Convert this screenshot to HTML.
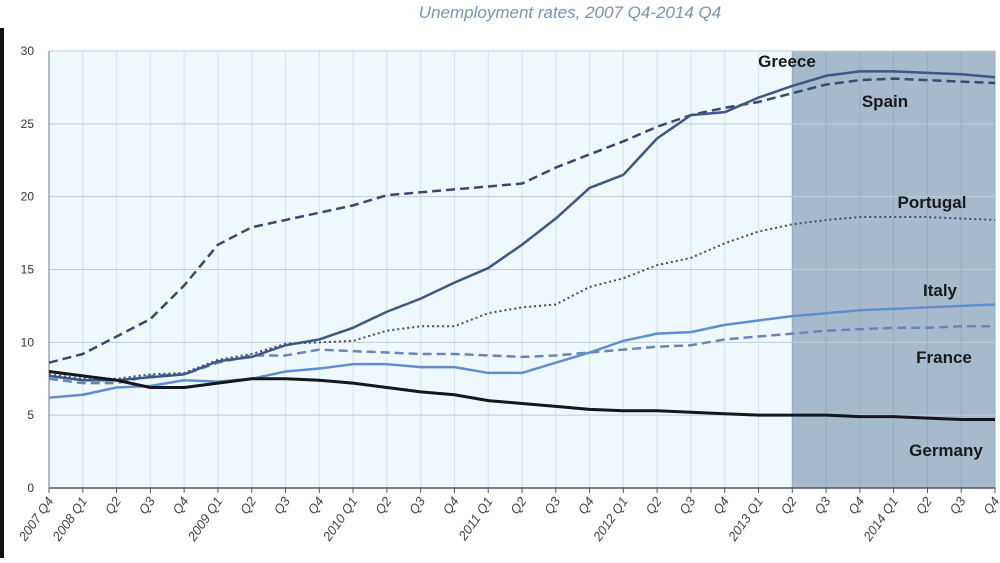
<!DOCTYPE html>
<html><head><meta charset="utf-8"><style>
body{margin:0;background:#fff;width:1000px;height:558px;overflow:hidden;font-family:"Liberation Sans",sans-serif}
</style></head><body>
<svg id="c" width="1000" height="558" xmlns="http://www.w3.org/2000/svg"></svg>
<script>
const categories=["2007 Q4","2008 Q1","Q2","Q3","Q4","2009 Q1","Q2","Q3","Q4","2010 Q1","Q2","Q3","Q4","2011 Q1","Q2","Q3","Q4","2012 Q1","Q2","Q3","Q4","2013 Q1","Q2","Q3","Q4","2014 Q1","Q2","Q3","Q4"];
const greece=[7.7,7.4,7.4,7.6,7.8,8.7,9.0,9.8,10.2,11.0,12.1,13.0,14.1,15.1,16.7,18.5,20.6,21.5,24.0,25.6,25.8,26.8,27.6,28.3,28.6,28.6,28.5,28.4,28.2];
const spain=[8.6,9.2,10.4,11.6,13.9,16.7,17.9,18.4,18.9,19.4,20.1,20.3,20.5,20.7,20.9,22.0,22.9,23.8,24.8,25.6,26.1,26.5,27.1,27.7,28.0,28.1,28.0,27.9,27.8];
const portugal=[7.8,7.5,7.5,7.8,7.9,8.8,9.2,9.9,10.0,10.1,10.8,11.1,11.1,12.0,12.4,12.6,13.8,14.4,15.3,15.8,16.8,17.6,18.1,18.4,18.6,18.6,18.6,18.5,18.4];
const italy=[6.2,6.4,6.9,7.0,7.4,7.3,7.5,8.0,8.2,8.5,8.5,8.3,8.3,7.9,7.9,8.6,9.3,10.1,10.6,10.7,11.2,11.5,11.8,12.0,12.2,12.3,12.4,12.5,12.6];
const france=[7.5,7.2,7.2,7.7,7.8,8.6,9.1,9.1,9.5,9.4,9.3,9.2,9.2,9.1,9.0,9.1,9.3,9.5,9.7,9.8,10.2,10.4,10.6,10.8,10.9,11.0,11.0,11.1,11.1];
const germany=[8.0,7.7,7.4,6.9,6.9,7.2,7.5,7.5,7.4,7.2,6.9,6.6,6.4,6.0,5.8,5.6,5.4,5.3,5.3,5.2,5.1,5.0,5.0,5.0,4.9,4.9,4.8,4.7,4.7];
const yTicks=[0,5,10,15,20,25,30];
const shadeStart=22;

const svg=document.getElementById('c');
const NS='http://www.w3.org/2000/svg';
const L=49,R=995,T=51,B=488;
const x=i=>L+i*(R-L)/(categories.length-1);
const y=v=>B-(v/30)*(B-T);
function mk(tag,attrs,parent){const e=document.createElementNS(NS,tag);for(const k in attrs)e.setAttribute(k,attrs[k]);(parent||svg).appendChild(e);return e;}

let e;
e=mk('rect',{x:0,y:28,width:4,height:530,fill:'#111'});


e=mk('text',{x:570,y:18,'text-anchor':'middle','font-size':17,'font-style':'italic',fill:'#7494b8'});
e.textContent='Unemployment rates, 2007 Q4-2014 Q4';


e=mk('rect',{x:L,y:T,width:R-L,height:B-T,fill:'#eef8fd'});


e=mk('rect',{x:x(shadeStart),y:T,width:R-x(shadeStart),height:B-T,fill:'#a6bacc'});


categories.forEach((c,i)=>{
  const g=mk('line',{x1:x(i),x2:x(i),y1:T,y2:B,stroke:i>=shadeStart?'#95aabd':'#d3e3ec','stroke-width':1});
  
  
  const tk=mk('line',{x1:x(i),x2:x(i),y1:B,y2:B+5,stroke:'#555'});
  
  
  const t=mk('text',{x:x(i)+5,y:B+13,'text-anchor':'end','font-size':13,'font-style':'italic',fill:'#444',transform:`rotate(-55 ${x(i)+5} ${B+13})`});
  t.textContent=c;
  
  
});
yTicks.forEach(v=>{
  const g=mk('line',{x1:L,x2:R,y1:y(v),y2:y(v),stroke:v===0?'#555':'#c4ccd2','stroke-width':v===0?1.5:1});
  
  
  const t=mk('text',{x:34,y:y(v)+4,'text-anchor':'end','font-size':12,fill:'#333'});
  t.textContent=v;
  
  
});
e=mk('line',{x1:L,x2:L,y1:T,y2:B,stroke:'#777'});



function series(vals,stroke,w,dash,name){
  const p=mk('polyline',{points:vals.map((v,i)=>x(i)+','+y(v)).join(' '),fill:'none',stroke:stroke,'stroke-width':w,'stroke-dasharray':dash||'none','stroke-linejoin':'round'});
  
  
}
series(france,'#6a86b8',2.5,'9 5','line-france');
series(italy,'#5f8fd0',2.5,null,'line-italy');
series(portugal,'#3d4f70',2,'2 3','line-portugal');
series(spain,'#354b70',2.5,'9 5','line-spain');
series(greece,'#3c5886',2.5,null,'line-greece');
series(germany,'#15171c',3,null,'line-germany');

[['Greece',787,67],['Spain',885,107],['Portugal',932,208],['Italy',940,296],['France',944,363],['Germany',946,456]].forEach(([n,lx,ly])=>{
  const t=mk('text',{x:lx,y:ly,'text-anchor':'middle','font-size':17,'font-weight':'bold',fill:'#1a1a1a'});
  t.textContent=n;
  
  
});
</script>
</body></html>
